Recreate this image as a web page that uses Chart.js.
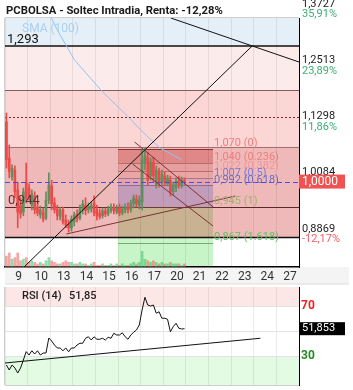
<!DOCTYPE html>
<html>
<head>
<meta charset="utf-8">
<script src="https://cdn.jsdelivr.net/npm/chart.js@4.4.0/dist/chart.umd.min.js"></script>
<style>
  body { margin: 0; background: #fff; }
  #wrap { position: relative; width: 353px; height: 390px; }
  canvas { position: absolute; left: 0; }
</style>
</head>
<body>
<div id="wrap">
  <canvas id="main" width="353" height="285" style="top:0"></canvas>
  <canvas id="rsi" width="353" height="105" style="top:285px"></canvas>
</div>
<script>
// sessions shown on the x axis
const dayLabels = ['9', '10', '13', '14', '15', '16', '17', '20', '21', '22', '23', '24', '27'];
const candlesPerDay = 8;

// intraday candles (8 per session, 9 -> 20)
const openP = [
  1.129, 1.051, 1.010, 1.025, 0.982, 0.949, 0.934, 0.999,
  0.986, 0.949, 0.969, 0.945, 0.928, 0.934, 0.921, 0.960,
  0.991, 0.954, 0.941, 0.924, 0.939, 0.917, 0.908, 0.900,
  0.913, 0.930, 0.921, 0.939, 0.949, 0.939, 0.941, 0.954,
  0.939, 0.932, 0.926, 0.937, 0.930, 0.937, 0.945, 0.934,
  0.943, 0.932, 0.939, 0.945, 0.939, 0.952, 0.962, 0.949,
  0.956, 1.042, 1.051, 1.012, 1.042, 0.991, 1.021, 0.997,
  1.012, 0.995, 1.003, 0.978, 0.986, 1.003, 0.991, 1.003
];
const highP = [
  1.148, 1.079, 1.036, 1.034, 0.999, 0.965, 0.986, 1.040,
  0.995, 0.982, 0.978, 0.954, 0.947, 0.943, 0.978, 1.019,
  1.003, 0.965, 0.949, 0.945, 0.945, 0.928, 0.917, 0.926,
  0.934, 0.939, 0.949, 0.960, 0.965, 0.954, 0.956, 0.969,
  0.949, 0.941, 0.943, 0.943, 0.947, 0.952, 0.952, 0.949,
  0.952, 0.947, 0.952, 0.954, 0.960, 0.971, 0.971, 0.969,
  1.068, 1.073, 1.064, 1.051, 1.053, 1.034, 1.029, 1.025,
  1.021, 1.014, 1.012, 0.999, 1.008, 1.012, 1.010, 1.008
];
const lowP = [
  1.029, 1.008, 1.003, 0.965, 0.900, 0.921, 0.926, 0.954,
  0.960, 0.939, 0.930, 0.926, 0.921, 0.913, 0.917, 0.952,
  0.939, 0.932, 0.917, 0.917, 0.908, 0.900, 0.891, 0.893,
  0.904, 0.913, 0.917, 0.930, 0.928, 0.932, 0.934, 0.926,
  0.917, 0.919, 0.921, 0.924, 0.926, 0.932, 0.930, 0.930,
  0.926, 0.928, 0.932, 0.932, 0.934, 0.943, 0.945, 0.941,
  0.939, 1.025, 0.993, 1.003, 0.999, 0.986, 0.988, 0.991,
  0.991, 0.991, 0.969, 0.971, 0.978, 0.986, 0.986, 0.993
];
const closeP = [
  1.047, 1.021, 1.029, 0.978, 0.934, 0.930, 0.978, 0.965,
  0.969, 0.973, 0.939, 0.932, 0.939, 0.919, 0.960, 0.993,
  0.952, 0.939, 0.926, 0.939, 0.913, 0.906, 0.900, 0.919,
  0.928, 0.919, 0.941, 0.952, 0.937, 0.947, 0.949, 0.932,
  0.926, 0.924, 0.937, 0.930, 0.941, 0.945, 0.937, 0.943,
  0.932, 0.941, 0.945, 0.939, 0.954, 0.965, 0.952, 0.960,
  1.047, 1.055, 1.003, 1.042, 1.012, 1.025, 0.999, 1.016,
  0.999, 1.008, 0.978, 0.993, 1.001, 0.993, 1.003, 1.000
];
const volume = [
  7, 9, 5, 6, 9, 4, 5, 6,
  3, 4, 3, 2, 3, 2, 4, 6,
  4, 3, 2, 2, 3, 4, 3, 3,
  2, 2, 3, 2, 2, 1, 2, 3,
  1, 1, 2, 1, 1, 2, 1, 2,
  1, 2, 1, 1, 2, 3, 2, 3,
  10, 5, 4, 3, 4, 3, 2, 3,
  2, 2, 3, 2, 2, 2, 1, 2
];
const rsiValues = [
  22.8, 18.8, 22.8, 20.4, 16.4, 20.4, 26.8, 33.5,
  30.8, 34.2, 31.6, 34.2, 30.8, 32.4, 32.4, 44.4,
  42.0, 38.8, 36.4, 36.4, 34.2, 36.4, 33.4, 36.4,
  36.4, 38.8, 40.2, 40.2, 44.2, 45.4, 42.8, 45.4,
  43.4, 43.4, 44.2, 42.8, 45.0, 44.2, 48.2, 46.8,
  46.8, 48.6, 45.4, 43.4, 46.8, 49.0, 50.8, 54.8,
  66.8, 77.0, 70.8, 70.0, 70.8, 64.2, 65.4, 60.2,
  60.2, 59.4, 49.4, 53.4, 56.2, 52.2, 51.6, 51.85
];

// SMA(100), sampled along the visible part
const smaDays = [1.96, 2.31, 3.07, 4.31, 5.51, 6.09, 6.84, 7.82];
const smaValues = [1.362, 1.328, 1.263, 1.194, 1.137, 1.107, 1.073, 1.047];

// drawn trend lines: [start, end] as (session index, price)
const riseDays = [0.84, 10.93], riseValues = [0.8154, 1.293];
const fallDays = [7.33, 13], fallValues = [1.3535, 1.2584];
const supportDays = [2.71, 10.18], supportValues = [0.8867, 0.9688];
const chanHighDays = [5.73, 9.2], chanHighValues = [1.0855, 0.9451];
const chanLowDays = [5.64, 9.2], chanLowValues = [1.038, 0.904];
const rsiTrendDays = [0, 11.29], rsiTrendValues = [24.4, 44.2];

// horizontal levels and zones
const bandEdges = [1.293, 1.197, 1.075, 0.8792];
const dottedLevel = 1.1396;
const supportLevel = 0.944;
const fibValues = [1.070, 1.040, 1.022, 1.007, 0.992, 0.945, 0.867];
const fibTags = ['0', '0.236', '0.382', '0.5', '0.618', '1', '1.618'];
const fibFrom = 5.0, fibTo = 9.2;

// right axis
const axisValues = [1.3727, 1.2513, 1.1298, 1.0084, 0.8869];
const axisChanges = ['35,91%', '23,89%', '11,86%', '', '-12,17%'];
const lastPrice = 1.0000;
const lastRsi = 51.853;
const rsiLevels = [70, 30];

const yMin = 0.8154, yMax = 1.3535;
const font = 'Roboto';

const candleX = closeP.map((_, k) => Math.floor(k / candlesPerDay) + (k % candlesPerDay + 0.5) / candlesPerDay);
const isUp = closeP.map((c, k) => c >= openP[k]);
const candleColor = isUp.map(u => u ? '#5f8f5f' : '#ef4848');
const volColor = isUp.map(u => u ? 'rgba(60,200,110,0.6)' : 'rgba(240,90,90,0.55)');

const pts = (xs, ys) => xs.map((x, i) => ({ x, y: ys[i] }));
const comma = (v, d) => v.toFixed(d).replace('.', ',');

function dayTicks(scale) {
  const t = [];
  dayLabels.forEach((lab, d) => {
    t.push({ value: d });
    t.push({ value: d + 0.6, day: lab });
  });
  t.push({ value: dayLabels.length });
  scale.ticks = t;
}
const dayGrid = (c) => (c.tick && Number.isInteger(c.tick.value)) ? 'rgba(0,0,0,0.08)' : 'rgba(0,0,0,0)';

function hline(ctx, x0, x1, py, color, width, dash) {
  ctx.save();
  ctx.strokeStyle = color;
  ctx.lineWidth = width;
  ctx.setLineDash(dash || []);
  ctx.beginPath();
  ctx.moveTo(x0, py);
  ctx.lineTo(x1, py);
  ctx.stroke();
  ctx.restore();
}

const fibFills = ['#e9bcbc', '#f4dada', '#f7e4e4', '#f2e0f2', '#c0d8ff', '#c8f5c8', '#c8f5c8'];
const fibLineColors = ['#8c3030', '#b07070', '#b07070', '#a07890', '#8070a0', '#6a4030', '#78a878'];
const fibTextColors = ['#f07c7c', '#f07c7c', '#f29494', '#7a7ad8', '#6a6ac8', '#a0b070', '#5cc45c'];
const bandFills = ['rgba(0,100,190,0.106)', 'rgba(220,0,0,0.08)', 'rgba(235,0,0,0.165)', 'rgba(200,0,0,0.275)'];

const mainDecor = {
  id: 'mainDecor',
  beforeDraw(chart) {
    const { ctx, chartArea: a, scales: { x, y } } = chart;
    ctx.save();
    ctx.fillStyle = '#f4f4f4';
    ctx.fillRect(a.left, a.bottom, 349 - a.left, 17);
    hline(ctx, a.left, 349, a.bottom + 17, '#dcdcdc', 1);

    const fx0 = x.getPixelForValue(fibFrom), fx1 = x.getPixelForValue(fibTo);
    fibFills.forEach((c, i) => {
      const t = y.getPixelForValue(fibValues[i] ?? yMin);
      const b = y.getPixelForValue(fibValues[i + 1] ?? yMin);
      ctx.fillStyle = c;
      ctx.fillRect(fx0, t, fx1 - fx0, b - t);
    });

    const tops = [yMax, ...bandEdges];
    bandFills.forEach((c, i) => {
      const t = y.getPixelForValue(tops[i]);
      const b = y.getPixelForValue(bandEdges[i]);
      ctx.fillStyle = c;
      ctx.fillRect(a.left, t, a.right - a.left, b - t);
    });

    ctx.strokeStyle = '#cfcfcf';
    ctx.lineWidth = 1;
    ctx.beginPath();
    ctx.moveTo(a.left - 0.5, a.top);
    ctx.lineTo(a.left - 0.5, a.bottom);
    ctx.moveTo(a.left, a.top - 0.5);
    ctx.lineTo(a.right, a.top - 0.5);
    ctx.stroke();
    ctx.restore();
  },
  beforeDatasetsDraw(chart) {
    const { ctx, chartArea: a, scales: { x, y } } = chart;
    const px = v => Math.round(y.getPixelForValue(v)) + 0.5;
    hline(ctx, a.left, a.right, px(bandEdges[1]), '#8c5a5a', 1);
    hline(ctx, a.left, a.right, px(dottedLevel), '#7a2a2a', 1, [2, 2]);
    hline(ctx, a.left, a.right, px(bandEdges[2]), '#a07070', 1);
    hline(ctx, a.left, a.right, px(supportLevel), '#5a2a2a', 1);
    const fx0 = x.getPixelForValue(fibFrom), fx1 = x.getPixelForValue(fibTo);
    fibValues.forEach((v, i) => hline(ctx, fx0, fx1, px(v), fibLineColors[i], 1));
    hline(ctx, a.left, a.right, y.getPixelForValue(bandEdges[0]), '#111', 1.5);
    hline(ctx, a.left, a.right, y.getPixelForValue(bandEdges[3]), '#111', 1.5);
  },
  afterDatasetsDraw(chart) {
    const { ctx, chartArea: a, scales: { x, y } } = chart;
    hline(ctx, a.left, a.right, Math.round(y.getPixelForValue(lastPrice)) + 0.5, '#4b4be0', 1, [5, 3]);

    ctx.save();
    ctx.textBaseline = 'middle';
    ctx.textAlign = 'left';
    ctx.font = `13px ${font}`;
    ctx.fillStyle = '#111';
    ctx.fillText(comma(bandEdges[0], 3), a.left + 2, y.getPixelForValue(bandEdges[0]) - 6.5);
    ctx.fillStyle = '#5a3434';
    ctx.fillText(comma(supportLevel, 3), a.left + 3, y.getPixelForValue(supportLevel) - 6.5);

    ctx.font = `12px ${font}`;
    ctx.fillStyle = '#a9d0f2';
    ctx.fillText('SMA (100)', a.left + 17, a.top + 11);

    const fx1 = x.getPixelForValue(fibTo);
    ctx.font = `11px ${font}`;
    fibValues.forEach((v, i) => {
      ctx.fillStyle = fibTextColors[i];
      ctx.fillText(`${comma(v, 3)} (${fibTags[i]})`, fx1 + 1, y.getPixelForValue(v) - 5.5);
    });
    ctx.restore();
  },
  afterDraw(chart) {
    const { ctx, chartArea: a, scales: { y } } = chart;
    ctx.save();
    ctx.textBaseline = 'middle';
    ctx.textAlign = 'left';
    ctx.font = `bold 11.3px ${font}`;
    ctx.fillStyle = '#1a1a1a';
    ctx.fillText('PCBOLSA - Soltec Intradia, Renta: -12,28%', 6, 11);

    ctx.font = `11px ${font}`;
    axisValues.forEach((v, i) => {
      const py = y.getPixelForValue(v);
      ctx.fillStyle = '#222';
      ctx.fillText(comma(v, 4), a.right + 3, py - 5);
      if (axisChanges[i]) {
        ctx.fillStyle = axisChanges[i].startsWith('-') ? '#f06060' : '#3cae74';
        ctx.fillText(axisChanges[i], a.right + 3, py + 5.5);
      }
    });

    const py = y.getPixelForValue(lastPrice);
    ctx.fillStyle = '#f05252';
    ctx.fillRect(a.right, py - 7, 46, 14);
    ctx.fillStyle = '#fff';
    ctx.font = `12px ${font}`;
    ctx.fillText(comma(lastPrice, 4), a.right + 3, py);
    ctx.restore();
  }
};

const lineSet = (data, color, order) => ({
  type: 'line', data, borderColor: color, borderWidth: 1,
  pointRadius: 0, fill: false, tension: 0, order
});

new Chart(document.getElementById('main'), {
  type: 'bar',
  data: {
    datasets: [
      lineSet(pts(riseDays, riseValues), '#111', 0),
      lineSet(pts(fallDays, fallValues), '#111', 0),
      lineSet(pts(supportDays, supportValues), '#7a3434', 0),
      lineSet(pts(chanHighDays, chanHighValues), '#7a3434', 0),
      lineSet(pts(chanLowDays, chanLowValues), '#7a3434', 0),
      {
        type: 'bar', order: 1, grouped: false, barThickness: 2, minBarLength: 1,
        data: candleX.map((x, k) => ({ x, y: [openP[k], closeP[k]] })),
        backgroundColor: candleColor
      },
      {
        type: 'bar', order: 2, grouped: false, barThickness: 1,
        data: candleX.map((x, k) => ({ x, y: [lowP[k], highP[k]] })),
        backgroundColor: candleColor
      },
      {
        type: 'bar', order: 3, grouped: false, barThickness: 2, yAxisID: 'yVol',
        data: candleX.map((x, k) => ({ x, y: volume[k] })),
        backgroundColor: volColor
      },
      lineSet(pts(smaDays, smaValues), '#92c2ee', 4)
    ]
  },
  options: {
    responsive: false,
    animation: false,
    devicePixelRatio: 1,
    layout: { padding: { left: 5, top: 18, right: 0, bottom: 0 } },
    plugins: { legend: { display: false }, tooltip: { enabled: false } },
    scales: {
      x: {
        type: 'linear', min: 0, max: dayLabels.length, offset: false,
        afterBuildTicks: dayTicks,
        afterFit: s => { s.height = 18; },
        grid: { color: dayGrid, drawTicks: false, offset: false },
        border: { color: '#000', width: 1.5 },
        ticks: {
          autoSkip: false, maxRotation: 0, padding: 3, color: '#333',
          font: { family: font, size: 12 },
          callback: (v, i, ticks) => ticks[i].day || ''
        }
      },
      y: {
        type: 'linear', position: 'right', min: yMin, max: yMax,
        afterFit: s => { s.width = 54; },
        grid: { display: false },
        border: { color: '#000', width: 1 },
        ticks: { display: false }
      },
      yVol: { type: 'linear', display: false, min: 0, max: 160 }
    }
  },
  plugins: [mainDecor]
});

const rsiDecor = {
  id: 'rsiDecor',
  beforeDraw(chart) {
    const { ctx, chartArea: a, scales: { y } } = chart;
    ctx.save();
    const p70 = y.getPixelForValue(rsiLevels[0]);
    const p30 = y.getPixelForValue(rsiLevels[1]);
    ctx.fillStyle = '#fde6e6';
    ctx.fillRect(a.left, a.top, a.right - a.left, p70 - a.top);
    ctx.fillStyle = '#e3fbe3';
    ctx.fillRect(a.left, p30, a.right - a.left, a.bottom - p30);
    ctx.strokeStyle = '#cfcfcf';
    ctx.beginPath();
    ctx.moveTo(a.left - 0.5, a.top);
    ctx.lineTo(a.left - 0.5, a.bottom);
    ctx.stroke();
    ctx.restore();
  },
  afterDraw(chart) {
    const { ctx, chartArea: a, scales: { y } } = chart;
    ctx.save();
    ctx.textBaseline = 'middle';
    ctx.textAlign = 'left';
    ctx.font = `500 11px ${font}`;
    ctx.fillStyle = '#222';
    ctx.fillText('RSI (14)', a.left + 17, a.top + 9);
    ctx.fillText(comma(lastRsi, 2), a.left + 64, a.top + 9);

    ctx.font = `bold 12px ${font}`;
    ctx.fillStyle = '#ee2222';
    ctx.fillText(String(rsiLevels[0]), a.right + 2, y.getPixelForValue(rsiLevels[0]));
    ctx.fillStyle = '#228b22';
    ctx.fillText(String(rsiLevels[1]), a.right + 2, y.getPixelForValue(rsiLevels[1]));

    const py = y.getPixelForValue(lastRsi);
    ctx.fillStyle = '#000';
    ctx.fillRect(a.right, py - 6.5, 46, 13);
    ctx.fillStyle = '#fff';
    ctx.font = `11px ${font}`;
    ctx.fillText(comma(lastRsi, 3), a.right + 3, py);
    ctx.restore();
  }
};

new Chart(document.getElementById('rsi'), {
  type: 'line',
  data: {
    datasets: [
      lineSet(pts(candleX, rsiValues), '#111', 0),
      lineSet(pts(rsiTrendDays, rsiTrendValues), '#111', 1)
    ]
  },
  options: {
    responsive: false,
    animation: false,
    devicePixelRatio: 1,
    layout: { padding: { left: 5, top: 2, right: 0, bottom: 5 } },
    plugins: { legend: { display: false }, tooltip: { enabled: false } },
    scales: {
      x: {
        type: 'linear', min: 0, max: dayLabels.length,
        afterBuildTicks: dayTicks,
        afterFit: s => { s.height = 0; },
        grid: { color: dayGrid, drawTicks: false },
        border: { color: '#cfcfcf' },
        ticks: { display: false }
      },
      y: {
        type: 'linear', position: 'right', min: 6.8, max: 85.2,
        afterBuildTicks: s => { s.ticks = [30, 50, 70].map(value => ({ value })); },
        afterFit: s => { s.width = 54; },
        grid: { color: '#e2e2e2', drawTicks: false },
        border: { color: '#000', width: 1 },
        ticks: { display: false }
      }
    }
  },
  plugins: [rsiDecor]
});
</script>
</body>
</html>
